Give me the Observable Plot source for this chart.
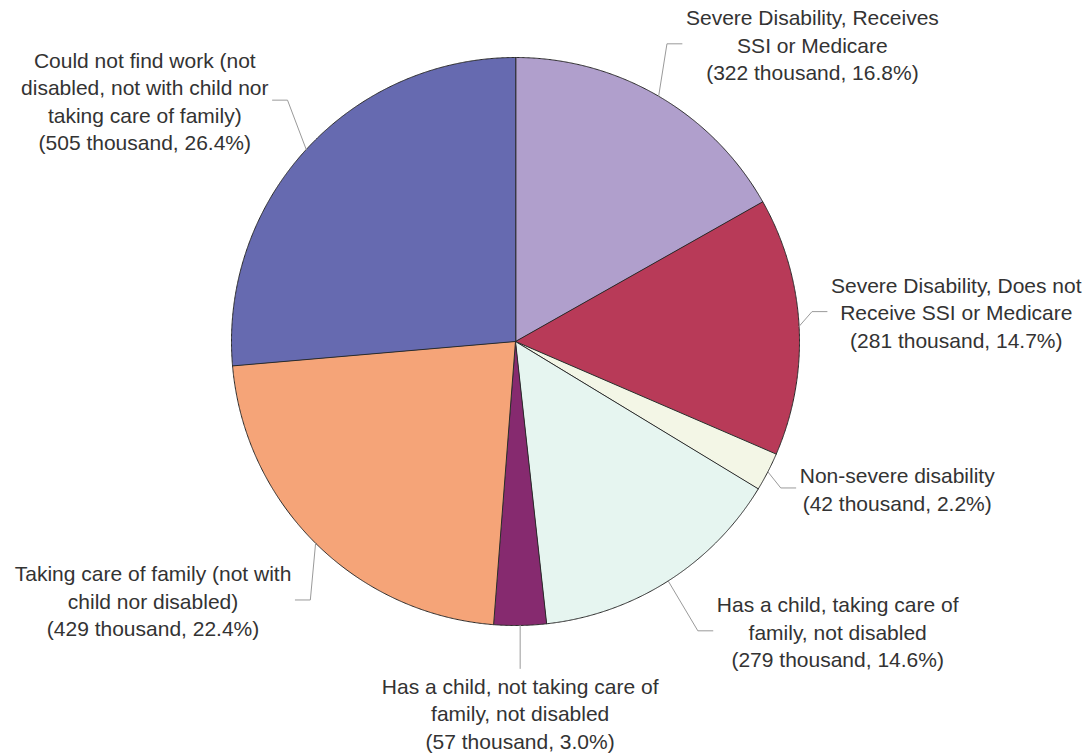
<!DOCTYPE html>
<html><head><meta charset="utf-8">
<script src="https://cdn.jsdelivr.net/npm/d3@7"></script>
<script src="https://cdn.jsdelivr.net/npm/@observablehq/plot@0.6"></script>
<style>body{margin:0;background:#fff;}</style>
</head><body><div id="chart"></div>
<script>
// ---- data ----
const categories = [
  "Severe Disability, Receives\nSSI or Medicare",
  "Severe Disability, Does not\nReceive SSI or Medicare",
  "Non-severe disability",
  "Has a child, taking care of\nfamily, not disabled",
  "Has a child, not taking care of\nfamily, not disabled",
  "Taking care of family (not with\nchild nor disabled)",
  "Could not find work (not\ndisabled, not with child nor\ntaking care of family)"
];
const values = [322, 281, 42, 279, 57, 429, 505];
const percents = ["16.8%", "14.7%", "2.2%", "14.6%", "3.0%", "22.4%", "26.4%"];
const colors = ["#b09fcc", "#b83a58", "#f3f6e6", "#e6f5f0", "#862a6f", "#f5a478", "#666ab0"];

// ---- layout ----
const W = 1091, H = 755;
const cx = 515, cy = 341, R = 284;
const FONT = 21, FAMILY = "'Liberation Sans', Arial, sans-serif";
// leader layout: side, elbow angle offset from mid-angle (deg), elbow radius
const leaderLayout = [
  {side: "right", dA: -3.3, r: 334},
  {side: "right", dA: -2.7, r: 298},
  {side: "right", dA: 1.6, r: 303},
  {side: "right", dA: 0.3, r: 342},
  {side: "down", len: 43},
  {side: "left", dA: -6.3, r: 330},
  {side: "left", dA: 4.1, r: 332}
];
const TAIL = 15, GAP = 4;

const rows = categories.map((c, i) => ({category: c, value: values[i], pct: percents[i], color: colors[i]}));
const arcs = d3.pie().sort(null).value(d => d.value)(rows);
const polar = (a, r) => [cx + r * Math.sin(a), cy - r * Math.cos(a)];

// slice outlines
const slicePts = [];
for (const a of arcs) {
  const n = Math.max(2, Math.ceil((a.endAngle - a.startAngle) / (Math.PI / 720)));
  slicePts.push({x: cx, y: cy, k: a.data.category});
  for (let j = 0; j <= n; j++) {
    const t = a.startAngle + (a.endAngle - a.startAngle) * j / n;
    const [x, y] = polar(t, R);
    slicePts.push({x, y, k: a.data.category});
  }
}

// text measurement
const ctx = document.createElement("canvas").getContext("2d");
ctx.font = `${FONT}px ${FAMILY}`;

const leaderPts = [];
const labels = [];
arcs.forEach((a, i) => {
  const L = leaderLayout[i];
  const mid = (a.startAngle + a.endAngle) / 2;
  const [rx, ry] = polar(mid, R);
  const text = `${a.data.category}\n(${a.data.value} thousand, ${a.data.pct})`;
  const maxW = d3.max(text.split("\n"), s => ctx.measureText(s).width);
  const k = a.data.category;
  if (L.side === "down") {
    leaderPts.push({x: rx, y: ry, k}, {x: rx, y: ry + L.len, k});
    labels.push({x: rx, y: ry + L.len + 6, text, anchor: "top"});
  } else {
    const [ex, ey] = polar(mid + L.dA * Math.PI / 180, L.r);
    const s = L.side === "right" ? 1 : -1;
    const tx = ex + s * TAIL;
    leaderPts.push({x: rx, y: ry, k}, {x: ex, y: ey, k}, {x: tx, y: ey, k});
    labels.push({x: tx + s * (GAP + maxW / 2), y: ey, text, anchor: "middle"});
  }
});

const chart = Plot.plot({
  width: W, height: H,
  margin: 0,
  x: {domain: [0, W], range: [0, W], axis: null},
  y: {domain: [0, H], range: [0, H], axis: null},
  color: {domain: categories, range: colors},
  style: {background: "#fff"},
  marks: [
    Plot.line(slicePts, {x: "x", y: "y", z: "k", fill: "k", stroke: "#2b2b2b", strokeWidth: 1, curve: "linear-closed", strokeLinejoin: "round"}),
    Plot.line(leaderPts, {x: "x", y: "y", z: "k", stroke: "#9a9a9a", strokeWidth: 1}),
    Plot.text(labels.filter(d => d.anchor === "middle"), {x: "x", y: "y", text: "text", lineAnchor: "middle", textAnchor: "middle", fontSize: FONT, fontFamily: FAMILY, fill: "#333", lineHeight: 1.31}),
    Plot.text(labels.filter(d => d.anchor === "top"), {x: "x", y: "y", text: "text", lineAnchor: "top", textAnchor: "middle", fontSize: FONT, fontFamily: FAMILY, fill: "#333", lineHeight: 1.31})
  ]
});
document.getElementById("chart").appendChild(chart);
</script>
</body></html>
